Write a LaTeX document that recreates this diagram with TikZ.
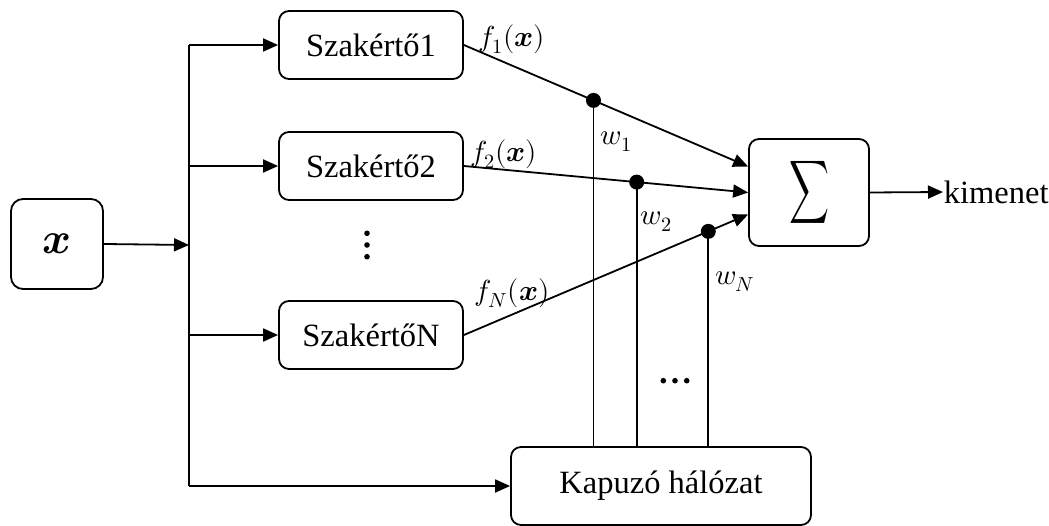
\documentclass[tikz,border=0pt]{standalone}
\usepackage{fontspec}
\usepackage{unicode-math}
\setmainfont{Liberation Serif}
\setmathfont{Latin Modern Math}
\newfontfamily\tms{Liberation Serif}
\usepackage{graphicx}
\usetikzlibrary{arrows.meta,calc}
\begin{document}
\begin{tikzpicture}[x=1pt,y=-1pt,
  line width=1.8pt,
  box/.style={draw, rounded corners=10pt, inner sep=0pt, align=center,
              font=\tms\fontsize{32.5}{36}\selectfont},
  arr/.style={-{Triangle[length=15pt,width=13pt]}},
  lbl/.style={font=\fontsize{29}{31}\selectfont, inner sep=0pt},
  junction/.style={circle, fill, inner sep=0pt, minimum size=15pt},
  elldot/.style={circle, fill, inner sep=0pt, minimum size=5.6pt}]
\useasboundingbox (0,0) rectangle (1049,526);

% input, experts, gating network and summation
\node[box, minimum width=92pt, minimum height=90pt, rounded corners=12pt] (X) at (57,244)
  {\fontsize{44}{46}\selectfont$\symbfit{x}$};
\node[box, minimum width=184pt, minimum height=68pt] (S1) at (371,45) {Szakértő1};
\node[box, minimum width=184pt, minimum height=68pt] (S2) at (371,166) {Szakértő2};
\node[box, minimum width=184pt, minimum height=68pt] (SN) at (371,335) {SzakértőN};
\node[box, minimum width=300pt, minimum height=78pt] (G) at (661,486) {Kapuzó hálózat};
\node[box, minimum width=120pt, minimum height=107pt] (S) at (809,192.5)
  {\resizebox*{40pt}{62pt}{$\displaystyle\sum$}};
\node[font=\tms\fontsize{32.5}{36}\selectfont, anchor=west, inner sep=0pt] (out) at (943,192) {kimenet};

% vertical ellipsis between the experts
\node[elldot] (v1) at (367,233.3) {};
\node[elldot] (v2) at (367,245) {};
\node[elldot] (v3) at (367,256.7) {};
% horizontal ellipsis between the weight lines
\node[elldot] (h1) at (663.3,380.7) {};
\node[elldot] (h2) at (675,380.7) {};
\node[elldot] (h3) at (686.7,380.7) {};

% input distribution
\coordinate (B) at (189,245);
\draw[arr] (X.east) -- (B);
\draw (B |- S1.west) -- (B |- G.west);
\draw[arr] (B |- S1.west) -- (S1.west);
\draw[arr] (B |- S2.west) -- (S2.west);
\draw[arr] (B |- SN.west) -- (SN.west);
\draw[arr] (B |- G.west) -- (G.west);

% expert outputs into the sum
\coordinate (t1) at ($(S.west)+(0,-26)$);
\coordinate (t2) at (S.west);
\coordinate (t3) at ($(S.west)+(0,22)$);
\coordinate (d1) at ($(S1.east)!0.456!(t1)$);
\coordinate (d2) at ($(S2.east)!0.608!(t2)$);
\coordinate (d3) at ($(SN.east)!0.860!(t3)$);
\draw[arr] (S1.east) -- (d1) -- (t1);
\draw[arr] (S2.east) -- (d2) -- (t2);
\draw[arr] (SN.east) -- (d3) -- (t3);

% gating weights
\draw (d1) -- (d1 |- G.north);
\draw (d2) -- (d2 |- G.north);
\draw (d3) -- (d3 |- G.north);
\node[junction] (j1) at (d1) {};
\node[junction] (j2) at (d2) {};
\node[junction] (j3) at (d3) {};

\draw[arr] (S.east) -- (out.west);

% labels
\node[lbl] (lf1) at (512,39) {$f_1(\symbfit{x})$};
\node[lbl] (lf2) at (504,154) {$f_2(\symbfit{x})$};
\node[lbl] (lfN) at (512,293) {$f_N(\symbfit{x})$};
\node[lbl] (lw1) at (616,142) {$w_1$};
\node[lbl] (lw2) at (656,222) {$w_2$};
\node[lbl] (lwN) at (735,282) {$w_N$};
\end{tikzpicture}
\end{document}
